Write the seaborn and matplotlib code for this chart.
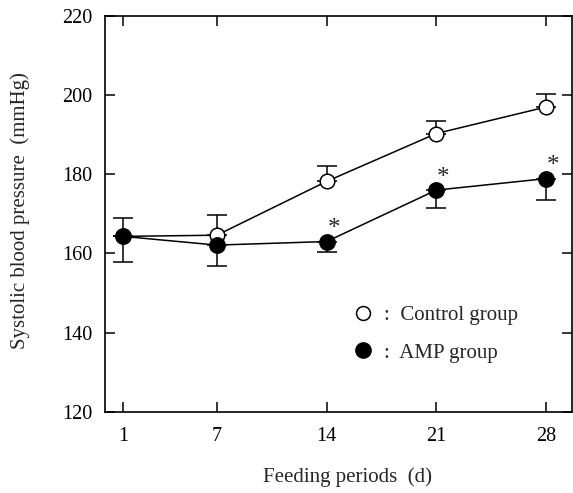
import matplotlib
matplotlib.use("Agg")
import matplotlib.pyplot as plt
import seaborn as sns
import pandas as pd
from matplotlib.lines import Line2D

days = [1, 7, 14, 21, 28]
control_mean = [164.3, 164.6, 178.2, 190.3, 197.0]
control_err = [4.6, 5.0, 4.0, 3.1, 3.4]
amp_mean = [164.3, 162.1, 163.0, 176.0, 178.9]
amp_err = [6.5, 5.3, 2.6, 4.4, 5.3]
amp_signif = [False, False, True, True, True]
yticks = [120, 140, 160, 180, 200, 220]
xticks = [1, 7, 14, 21, 28]

sns.set_style("ticks")
plt.rcParams['font.family'] = ['Liberation Serif', 'DejaVu Serif']

fig = plt.figure(figsize=(5.73, 4.93), dpi=100)
ax = fig.add_axes([0.183, 0.165, 0.815, 0.8025])

ctrl = pd.DataFrame({"day": days, "sbp": control_mean})
amp = pd.DataFrame({"day": days, "sbp": amp_mean})

# error bars (one-sided)
ax.errorbar(days, control_mean, yerr=[[0]*5, control_err], fmt='none',
            ecolor='black', elinewidth=1.1, capsize=7, capthick=1.1, zorder=1)
ax.errorbar(days, amp_mean, yerr=[amp_err, [0]*5], fmt='none',
            ecolor='black', elinewidth=1.1, capsize=7, capthick=1.1, zorder=1)

sns.lineplot(data=ctrl, x="day", y="sbp", ax=ax, color='black', lw=1.1,
             marker='o', markersize=10.5, markerfacecolor='white',
             markeredgecolor='black', markeredgewidth=1.1, zorder=3)
sns.lineplot(data=amp, x="day", y="sbp", ax=ax, color='black', lw=1.1,
             marker='o', markersize=11, markerfacecolor='black',
             markeredgecolor='black', markeredgewidth=1.1, zorder=4)

for d, m, s in zip(days, amp_mean, amp_signif):
    if s:
        ax.annotate('*', xy=(d, m), xytext=(5, 9), textcoords='offset points',
                    fontsize=18, ha='center', va='center')

ax.set_xlim(-0.15, 29.65)
ax.set_ylim(120, 220)
ax.set_xticks(xticks)
ax.set_yticks(yticks)
ax.tick_params(direction='in', length=7.5, width=1.1, top=True, right=True,
               labelsize=14.5, colors='black')
ax.tick_params(axis='y', pad=9)
ax.tick_params(axis='x', pad=11)
ax.tick_params(labeltop=False, labelright=False)
for sp in ax.spines.values():
    sp.set_linewidth(1.2)
    sp.set_color('black')

ax.set_xlabel("Feeding periods  (d)", fontsize=15)
ax.set_ylabel("Systolic blood pressure  (mmHg)", fontsize=15)
ax.xaxis.set_label_coords(0.52, -0.14)
ax.yaxis.set_label_coords(-0.16, 0.509)

handles = [Line2D([], [], ls='none', marker='o', markersize=10, markerfacecolor='white',
                  markeredgecolor='black', markeredgewidth=1.1),
           Line2D([], [], ls='none', marker='o', markersize=11, markerfacecolor='black',
                  markeredgecolor='black')]
ax.legend(handles, [":  Control group", ":  AMP group"], frameon=False,
          loc='upper left', bbox_to_anchor=(0.49, 0.315), fontsize=15,
          handlelength=1.0, handletextpad=0.5, labelspacing=0.85)

fig.savefig("out.png", dpi=100)
